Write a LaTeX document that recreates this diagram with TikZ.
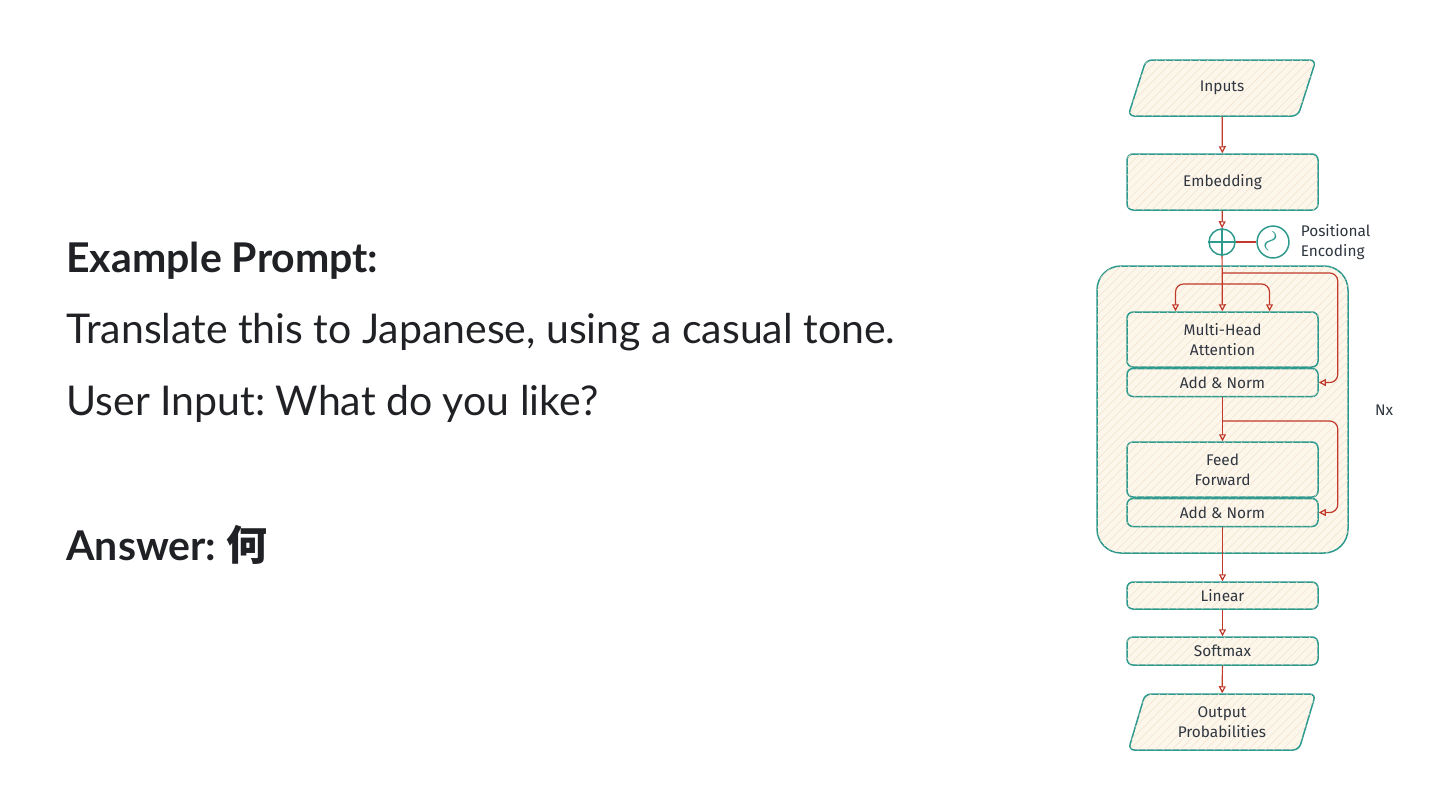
\documentclass[tikz,border=0pt]{standalone}
\usepackage{fontspec}
\setmainfont{Lato}
\newfontfamily\cjk{Noto Sans CJK JP}
\newfontfamily\sketch{Fira Sans}
\usetikzlibrary{positioning,shapes.geometric,arrows.meta,patterns.meta}
\frenchspacing

\definecolor{edge}{HTML}{2E9A8E}
\definecolor{paper}{HTML}{FDF6EB}
\definecolor{hatch}{HTML}{F1E2CC}
\definecolor{wire}{HTML}{C0392B}
\definecolor{ink}{HTML}{2F3640}
\definecolor{prose}{HTML}{202124}

\tikzset{
	block/.style={draw=edge, line width=0.75pt, fill=paper, rounded corners=3pt,
		minimum width=95.5pt, align=center, text=ink,
		font=\sketch\fontsize{7.7}{10}\selectfont,
		postaction={pattern={Lines[angle=45,distance=3pt,line width=0.25pt]}, pattern color=hatch}},
	slanted/.style={block, trapezium, trapezium left angle=76, trapezium right angle=104,
		minimum width=94pt, minimum height=28pt, trapezium stretches=true},
	arr/.style={draw=wire, line width=0.6pt, -{Triangle[open,length=3.5pt,width=3.5pt]}},
	wireline/.style={draw=wire, line width=0.6pt},
	prosetext/.style={anchor=base west, inner sep=0pt, text=prose, font=\fontsize{20.5}{24}\selectfont},
}

\begin{document}
\begin{tikzpicture}[x=0.5pt, y=-0.5pt]
	\useasboundingbox (0,0) rectangle (1440,810);

	% left column
	\node [prosetext, font=\bfseries\fontsize{20.5}{24}\selectfont] (head) at (66,272) {Example Prompt:};
	\node [prosetext] (task) at (66,343) {Translate this to Japanese, using a casual tone.};
	\node [prosetext] (user) at (66,415) {User Input: What do you like?};
	\node [prosetext, font=\bfseries\fontsize{20.5}{24}\selectfont] (answer) at (66,560) {Answer: {\cjk\bfseries 何}};

	% encoder stack
	\node [block, rounded corners=12pt, minimum width=125.5pt, minimum height=143.5pt] (stack) at (1222.5,409.5) {};
	\node [slanted] (inputs) at (1222,88) {Inputs};
	\node [block, minimum height=28pt] (embed) at (1222.5,182) {Embedding};
	\node [circle, draw=edge, line width=0.75pt, minimum size=13pt] (plus) at (1222,242) {};
	\node [circle, draw=edge, line width=0.75pt, minimum size=15pt, inner sep=0pt, text=edge] (pe) at (1273,242) {\rotatebox{60}{\Large$\sim$}};
	\node [right=2pt of pe, align=left, text=ink, font=\sketch\fontsize{7.7}{10}\selectfont] (pelabel) {Positional\\Encoding};
	\node [block, minimum height=27.5pt] (mha) at (1222.5,339.5) {Multi-Head\\Attention};
	\node [block, minimum height=14pt, below=0pt of mha] (an1) {Add \& Norm};
	\node [block, minimum height=27.5pt] (ff) at (1222.5,469.5) {Feed\\Forward};
	\node [block, minimum height=14pt, below=0pt of ff] (an2) {Add \& Norm};
	\node [block, minimum height=13.5pt] (linear) at (1222.5,595.5) {Linear};
	\node [block, minimum height=14pt] (softmax) at (1222.5,651) {Softmax};
	\node [slanted] (output) at (1222,722) {Output\\Probabilities};
	\node [text=ink, font=\sketch\fontsize{7.7}{10}\selectfont] (nx) at (1384,410) {Nx};

	\draw [edge, line width=0.75pt] (plus.north) -- (plus.south) (plus.west) -- (plus.east);
	\coordinate (res1) at (1222,273);
	\coordinate (qkv) at (1222,284);
	\coordinate (res2) at (1222,421);

	\draw [arr] (inputs) -- (embed);
	\draw [arr] (embed) -- (plus);
	\draw [wireline] (plus) -- (pe);
	\draw [arr] (plus) -- (mha);
	\draw [arr, rounded corners=4pt] (qkv) -| ([xshift=-23.5pt]mha.north);
	\draw [arr, rounded corners=4pt] (qkv) -| ([xshift=23.5pt]mha.north);
	\draw [arr, rounded corners=4pt] (res1) -| ([xshift=9.5pt]an1.east) -- (an1.east);
	\draw [arr] (an1) -- (ff);
	\draw [arr, rounded corners=4pt] (res2) -| ([xshift=9.5pt]an2.east) -- (an2.east);
	\draw [arr] (an2) -- (linear);
	\draw [arr] (linear) -- (softmax);
	\draw [arr] (softmax) -- (output);
\end{tikzpicture}
\end{document}
